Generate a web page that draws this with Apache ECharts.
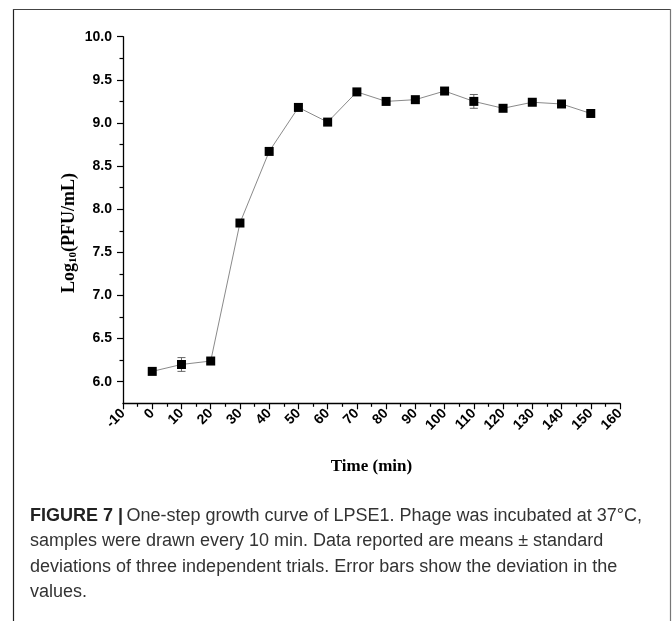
<!DOCTYPE html>
<html><head><meta charset="utf-8">
<script src="https://cdn.jsdelivr.net/npm/echarts@6/dist/echarts.min.js"></script>
<style>html,body{margin:0;padding:0;background:#fff}#c{width:672px;height:621px}</style>
</head><body><div id="c"></div>
<script>
const times = [0,10,20,30,40,50,60,70,80,90,100,110,120,130,140,150];
const means = [6.12,6.20,6.24,7.84,8.67,9.18,9.01,9.36,9.25,9.27,9.37,9.25,9.17,9.24,9.22,9.11];
const sds   = [0.02,0.08,0.03,0.02,0.02,0.02,0.03,0.02,0.04,0.02,0.02,0.08,0.02,0.02,0.02,0.02];
const yMajor = [6.0,6.5,7.0,7.5,8.0,8.5,9.0,9.5,10.0];
const yMinor = [6.25,6.75,7.25,7.75,8.25,8.75,9.25,9.75];
const captionLines = [
  'One-step growth curve of LPSE1. Phage was incubated at 37°C,',
  'samples were drawn every 10 min. Data reported are means ± standard',
  'deviations of three independent trials. Error bars show the deviation in the',
  'values.'
];

const chart = echarts.init(document.getElementById('c'), null, {renderer:'canvas'});
const lblFont = {fontFamily:'Arial, Liberation Sans, sans-serif', fontWeight:'bold', fontSize:14, color:'#000'};
const grid = {left:123, right:52, top:36.7, bottom:217.7};
const capFont = 'Arial, Liberation Sans, sans-serif';

const graphics = [
  {type:'line', shape:{x1:13.5,y1:9,x2:13.5,y2:621}, style:{stroke:'#222',lineWidth:1.2}},
  {type:'line', shape:{x1:13,y1:9.5,x2:670,y2:9.5}, style:{stroke:'#444',lineWidth:1.2}},
  {type:'line', shape:{x1:670.5,y1:9,x2:670.5,y2:621}, style:{stroke:'#777',lineWidth:1.2}},
  {type:'text', left:30, top:507, style:{
    text:'{b|FIGURE 7 |} {r|'+captionLines[0]+'}',
    rich:{b:{fontFamily:capFont,fontWeight:'bold',fontSize:18,fill:'#222'},
          r:{fontFamily:capFont,fontSize:18,fill:'#333'}}}}
];
for (let i=1;i<captionLines.length;i++){
  graphics.push({type:'text', left:30, top:507+i*25.5, style:{text:captionLines[i], font:'18px Arial, "Liberation Sans", sans-serif', fill:'#333'}});
}

chart.setOption({
  animation:false,
  backgroundColor:'#fff',
  grid:grid,
  xAxis:{
    type:'value', min:-10, max:160, interval:10,
    name:'Time (min)', nameLocation:'middle', nameGap:55,
    nameTextStyle:{fontFamily:'Liberation Serif, Times New Roman, serif', fontWeight:'bold', fontSize:17, color:'#000'},
    axisLine:{show:true, onZero:false, lineStyle:{color:'#000', width:1.3}},
    axisTick:{show:true, length:6, lineStyle:{color:'#000', width:1.2}},
    minorTick:{show:true, splitNumber:2, length:3.5, lineStyle:{color:'#000', width:1.2}},
    splitLine:{show:false},
    axisLabel:Object.assign({rotate:45, margin:8}, lblFont)
  },
  yAxis:[{
    type:'value', min:5.75, max:10, position:'left',
    name:'{a|Log}{s|10}{a|(PFU/mL)}', nameLocation:'middle', nameGap:44, nameRotate:90, nameMoveOverlap:false,
    nameTextStyle:{padding:[0,26,0,0], rich:{
      a:{fontFamily:'Liberation Serif, Times New Roman, serif', fontWeight:'bold', fontSize:18, color:'#000'},
      s:{fontFamily:'Liberation Serif, Times New Roman, serif', fontWeight:'bold', fontSize:11, color:'#000', verticalAlign:'bottom', padding:[9,0,0,0]}
    }},
    axisLine:{show:true, onZero:false, lineStyle:{color:'#000', width:1.3}},
    axisTick:{show:true, length:6, customValues:yMajor, lineStyle:{color:'#000', width:1.2}},
    splitLine:{show:false},
    axisLabel:Object.assign({margin:11, customValues:yMajor, formatter:v=>v.toFixed(1)}, lblFont)
  },{
    type:'value', min:5.75, max:10, position:'left', offset:0,
    axisLine:{show:false, onZero:false},
    axisTick:{show:true, length:3.5, customValues:yMinor, lineStyle:{color:'#000', width:1.2}},
    splitLine:{show:false},
    axisLabel:{show:false}
  }],
  graphic:graphics,
  series:[{
    type:'line', data:times.map((t,i)=>[t,means[i]]),
    symbol:'rect', symbolSize:9, itemStyle:{color:'#000'},
    lineStyle:{color:'#8a8a8a', width:1}, z:3
  },{
    type:'custom', data:times.map((t,i)=>[t,means[i],sds[i]]), z:2,
    renderItem:function(params, api){
      const x=api.value(0), m=api.value(1), s=api.value(2);
      const hi=api.coord([x,m+s]), lo=api.coord([x,m-s]);
      const w=4;
      return {type:'group', children:[
        {type:'line', shape:{x1:hi[0],y1:hi[1],x2:lo[0],y2:lo[1]}, style:{stroke:'#666',lineWidth:1}},
        {type:'line', shape:{x1:hi[0]-w,y1:hi[1],x2:hi[0]+w,y2:hi[1]}, style:{stroke:'#666',lineWidth:1}},
        {type:'line', shape:{x1:lo[0]-w,y1:lo[1],x2:lo[0]+w,y2:lo[1]}, style:{stroke:'#666',lineWidth:1}}
      ]};
    }
  }]
});
</script></body></html>
